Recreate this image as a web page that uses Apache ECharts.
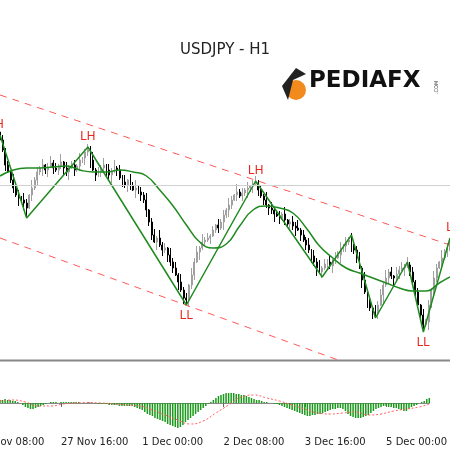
<!DOCTYPE html>
<html>
<head>
<meta charset="utf-8">
<script src="https://cdn.jsdelivr.net/npm/echarts@6/dist/echarts.min.js"></script>
<style>html,body{margin:0;padding:0;background:#fff}#main{width:450px;height:450px}</style>
</head>
<body>
<div id="main"></div>
<script>
// all price readings are pips below 105.00, converted to yen below
var closePips = [140,150,165,172, 180,188,195,198,200,203,208, 195,188,180,172,
  168,165,170,167,163,168,170,166,162,168,172,168,165,170,166,160,158,152,150,
  160,170,175,172,168,165,170,175,172,168,170,178,182,185,180,186,190,188,192,
  195,200,210,222,235,242,238,245,250,248,255,262,268,275,282,290,298,300,
  285,275,262,252,248,242,
  240,238,236,230,225,228,222,215,210,205,200,195,192,196,193,190,188,186,184,183,
  190,196,200,205,208,210,214,216,218,214,220,224,222,226,228,230,235,240,245,250,256,262,268,272,
  268,264,262,266,260,258,255,250,246,242,240,
  245,250,258,268,280,292,302,308,312,314,
  305,295,285,278,272,276,278,274,270,268,266,265,
  272,282,292,305,315,325,322,
  305,290,278,268,262,258,252,248,242];
var wickUp = '35241635274183526147352816345271364825371648253716482537146283517462835174628';
var wickDn = '42613528374162538471625374816253748162537481625374182637451826374518263745182';
// zigzag turning points [bar, pips]
var zigzag = [[0,135],[10,218],[33,147],[70,305],[96,181],[121,277],[132,235],[141,318],[153,262],[159,332],[169,238]];
var zigTags = ['LH','','LH','LL','LH','','','','','LL','LH'];
// moving average every 5 bars [bar, pips]
var maPips = [[0,176],[5,170],[10,168],[15,168],[20,167],[25,166],[30,170],[35,172],[40,172],[45,170],[50,172],[55,176],
  [60,190],[65,206],[70,225],[75,242],[80,248],[85,244],[90,226],[95,210],[100,206],[105,208],[110,213],[115,228],
  [120,246],[125,258],[130,268],[135,273],[140,278],[145,283],[150,288],[155,291],[160,291],[165,283],[169,277]];
var upperChannel = [[0,95],[169,245]];
var lowerChannel = [[0,238],[127,360]];
var refLevel = 185;
// oscillator (pips)
var macdHist = [3,3,4,3,3,2,2,1,0, -2,-4,-5,-6,-6,-5,-4,-3,-2, -1,0,1,1,1,0,1,1,1,
  1,1,1,1,1,0,0,0,1,1,0,0,-1,-1,-1,-1, -2,-2,-2,-2,-3,-3,-3,-3,-3,-3,
  -4,-5,-6,-7,-9,-11,-12,-13,-15,-16,-17, -18,-19,-21,-22,-23,-24,-25,-24,-22,
  -19,-17,-15,-13,-11,-9,-7,-5,-3,-1, 1,3,5,7,8,9,10,10,10,10,9,9,8,
  8,7,6,5,4,3,3,2,1,1,0, 0,-1,-1,-2,-3,-4,-5,-6,-7,-8,
  -9,-10,-11,-12,-13,-13,-12,-12,-11,-11,-10, -9,-8,-7,-6,-6,-5,-5,
  -6,-8,-11,-13,-14,-15,-15,-15,-14,-13,-12, -10,-8,-6,-5,-4,-3,-3,-4,-4,-5,-5,-6,
  -7,-8,-8,-6,-4,-3,-2,0,1,2,4,5];
var macdSignal = [[0,2],[5,3],[10,1],[15,-3],[20,-3],[25,-1],[30,0],[35,0.5],[40,0],[45,-1],[50,-2],[55,-3],
  [60,-7],[65,-12],[70,-17],[75,-21],[80,-18],[85,-10],[90,-2],[95,6],[100,8],[105,5],[110,2],[115,-2],
  [120,-6],[125,-10],[130,-11],[135,-10],[140,-9],[145,-12],[150,-11],[155,-8],[160,-6],[165,-4],[169,-1]];
var tickBars = [24,56,88,120,152];
var tickLabels = ['27 Nov 16:00','1 Dec 00:00','2 Dec 08:00','3 Dec 16:00','5 Dec 00:00'];

function yen(p){ return +(105 - p/100).toFixed(2); }

var cats = [], candles = [];
for (var i = 0; i < closePips.length; i++) {
  cats.push(i);
  var c = closePips[i], o = i ? closePips[i-1] : 132;
  var hi = Math.min(o, c) - +wickUp.charAt(i % wickUp.length);
  var lo = Math.max(o, c) + +wickDn.charAt(i % wickDn.length);
  candles.push([yen(o), yen(c), yen(lo), yen(hi)]);
}
zigzag.forEach(function(z, k){
  var d = candles[z[0]];
  if (k % 2 === 0) d[3] = Math.max(d[3], yen(z[1])); else d[2] = Math.min(d[2], yen(z[1]));
});
function toSeries(pts, f){
  var arr = cats.map(function(){ return null; });
  pts.forEach(function(p){ arr[p[0]] = f ? f(p[1]) : p[1]; });
  return arr;
}
var zigData = toSeries(zigzag, yen);
var tagPoints = [];
zigzag.forEach(function(z, k){
  if (!zigTags[k]) return;
  tagPoints.push({coord: [z[0], yen(z[1])], value: zigTags[k],
    label: {position: k % 2 === 0 ? 'top' : 'bottom', offset: k === 0 ? [-4, 0] : (k === 10 ? [4, 0] : [0, 0])}});
});
var dash = {color: '#ff5a5a', type: [7, 6], width: 1};

var myChart = echarts.init(document.getElementById('main'));
var option = {
  animation: false,
  title: {text: 'USDJPY - H1', left: 'center', top: 38, textStyle: {fontSize: 15, fontWeight: 'normal', color: '#222', fontFamily: 'DejaVu Sans'}},
  grid: [{left: 0, right: 0, top: 0, height: 360}, {left: 0, right: 0, top: 362, height: 70}],
  xAxis: [
    {type: 'category', data: cats, gridIndex: 0, boundaryGap: false, show: false},
    {type: 'category', data: cats, gridIndex: 1, boundaryGap: false,
      axisLine: {lineStyle: {color: '#888'}},
      axisTick: {length: 4, lineStyle: {color: '#666'}, interval: function(i){ return tickBars.indexOf(i) >= 0; }},
      axisLabel: {interval: function(i){ return tickBars.indexOf(i) >= 0; }, align: 'left', margin: 5,
        color: '#222', fontSize: 10, fontFamily: 'DejaVu Sans',
        formatter: function(v){ var k = tickBars.indexOf(+v); return k >= 0 ? tickLabels[k] : ''; }}}
  ],
  yAxis: [
    {gridIndex: 0, min: yen(360), max: yen(0), show: false, splitLine: {show: false}},
    {gridIndex: 1, min: -29, max: 41, show: false, splitLine: {show: false}}
  ],
  series: [
    {type: 'candlestick', data: candles, barWidth: 1.4,
      itemStyle: {color: '#a0a0a0', color0: '#000', borderColor: '#a0a0a0', borderColor0: '#000', borderWidth: 1},
      markLine: {silent: true, symbol: 'none', label: {show: false}, lineStyle: {color: '#d0d0d0', type: 'solid', width: 1},
        data: [{yAxis: yen(refLevel)}]}},
    {type: 'line', data: toSeries(upperChannel, yen), connectNulls: true, symbol: 'none', lineStyle: dash},
    {type: 'line', data: toSeries(lowerChannel, yen), connectNulls: true, symbol: 'none', lineStyle: dash},
    {type: 'line', data: toSeries(maPips, yen), connectNulls: true, smooth: true, symbol: 'none', lineStyle: {color: '#1f8a1f', width: 1.5}},
    {type: 'line', data: zigData, connectNulls: true, symbol: 'none', lineStyle: {color: '#1f8a1f', width: 1.5},
      markPoint: {symbol: 'circle', symbolSize: 1, itemStyle: {color: 'rgba(0,0,0,0)'}, silent: true,
        label: {show: true, formatter: '{c}', color: '#e8261c', fontSize: 12, distance: 4},
        data: tagPoints}},
    {type: 'bar', xAxisIndex: 1, yAxisIndex: 1, data: macdHist, barWidth: 1.5, itemStyle: {color: '#1a9a1a'}},
    {type: 'line', xAxisIndex: 1, yAxisIndex: 1, data: toSeries(macdSignal), connectNulls: true, smooth: true, symbol: 'none',
      lineStyle: {color: '#ff6060', type: [2, 2], width: 1}}
  ],
  graphic: [
    {type: 'rect', shape: {x: 0, y: 359.5, width: 450, height: 2}, style: {fill: '#888'}},
    {type: 'text', x: -23, y: 437, style: {text: '26 Nov 08:00', fill: '#222', fontSize: 10, fontFamily: 'DejaVu Sans'}},
    {type: 'circle', shape: {cx: 296, cy: 90, r: 10}, style: {fill: '#f28a1e'}},
    {type: 'polygon', shape: {points: [[282, 86], [296, 68], [306, 74], [293, 80], [288, 100]]}, style: {fill: '#222'}},
    {type: 'text', x: 309, y: 70, style: {text: 'PEDIAFX', fill: '#111', fontSize: 23, fontWeight: 'bold', fontFamily: 'DejaVu Sans'}},
    {type: 'text', x: 434, y: 94, rotation: Math.PI / 2, style: {text: '.COM', fill: '#333', fontSize: 5, fontFamily: 'DejaVu Sans'}}
  ]
};
myChart.setOption(option);
</script>
</body>
</html>
